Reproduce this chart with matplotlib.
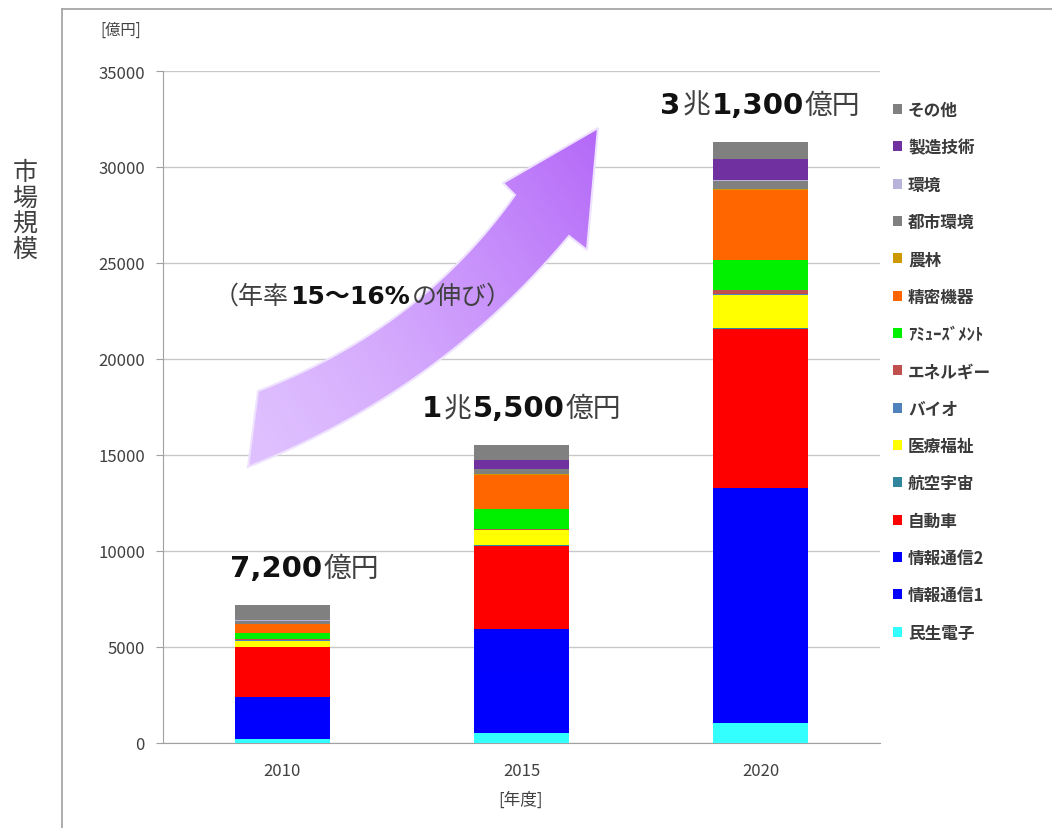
import numpy as np
import matplotlib
matplotlib.use("Agg")
import matplotlib.pyplot as plt
from matplotlib.patches import Polygon
from matplotlib.lines import Line2D
from matplotlib.offsetbox import TextArea, HPacker, AnnotationBbox

plt.rcParams['font.family'] = ['Noto Sans CJK JP', 'DejaVu Sans']

# データ（億円）
years = ['2010', '2015', '2020']
categories = ['民生電子', '情報通信1', '情報通信2', '自動車', '航空宇宙', '医療福祉', 'バイオ',
              'エネルギー', 'ｱﾐｭｰｽﾞﾒﾝﾄ', '精密機器', '農林', '都市環境', '環境', '製造技術', 'その他']
minsei = [200, 520, 1040]
joho1 = [1200, 3000, 6500]
joho2 = [1000, 2420, 5730]
jidosha = [2600, 4320, 8290]
koku = [20, 30, 50]
iryo = [310, 780, 1730]
bio = [20, 30, 60]
energy = [50, 60, 200]
amusement = [340, 1020, 1540]
seimitsu = [460, 1800, 3670]
norin = [20, 30, 60]
toshi = [150, 250, 400]
kankyo = [20, 30, 50]
seizo = [40, 460, 1120]
sonota = [770, 750, 860]
values = [minsei, joho1, joho2, jidosha, koku, iryo, bio, energy, amusement,
          seimitsu, norin, toshi, kankyo, seizo, sonota]
colors = ['#33FFFF', '#0000FF', '#0000FC', '#FF0000', '#31859C', '#FFFF00', '#4F81BD',
          '#C0504D', '#00F000', '#FF6600', '#CC9900', '#808080', '#B8B3D9', '#7030A0', '#808080']

W, H = 1052, 829
fig = plt.figure(figsize=(W / 100, H / 100), dpi=100)
ax = fig.add_axes([163 / W, 1 - 744 / H, (880 - 163) / W, (744 - 72) / H])

x = np.arange(len(years))
bottom = np.zeros(len(years))
handles = []
for name, vals, c in zip(categories, values, colors):
    b = ax.bar(x, vals, 0.4, bottom=bottom, color=c, label=name, zorder=3)
    handles.append(b)
    bottom += np.array(vals)
totals = bottom

ax.set_xlim(-0.5, 2.5)
ax.set_ylim(0, 35000)
ax.set_yticks(np.arange(0, 35001, 5000))
ax.set_xticks(x)
ax.set_xticklabels(years)
ax.tick_params(axis='y', labelsize=12, length=5, width=0.8, color='#a0a0a0', pad=8, labelcolor='#404040')
ax.tick_params(axis='x', labelsize=12, length=0, pad=14, labelcolor='#404040')
ax.grid(axis='y', color='#c8c8c8', lw=1.0, zorder=0)
for s in ['top', 'right']:
    ax.spines[s].set_visible(False)
ax.spines['left'].set_color('#a0a0a0')
ax.spines['bottom'].set_color('#a0a0a0')
ax.set_facecolor('none')

DIGIT_FONT = ['DejaVu Sans', 'Noto Sans CJK JP']


def mixed_label(axis, parts, xy, xycoords, offset, align, size, bsize, tcolor='#404040'):
    kids = []
    for s, bold in parts:
        if bold:
            tp = dict(fontsize=bsize, fontweight='bold', color='#111111', family=DIGIT_FONT)
        else:
            tp = dict(fontsize=size, color=tcolor)
        kids.append(TextArea(s, textprops=tp))
    box = HPacker(children=kids, align='baseline', pad=0, sep=1)
    ab = AnnotationBbox(box, xy, xycoords=xycoords, xybox=offset, boxcoords='offset points',
                        frameon=False, box_alignment=align, zorder=10)
    axis.add_artist(ab)


# 合計ラベル
label_shift = [16, 0, 0]
for xi, tot, dx in zip(x, totals, label_shift):
    tot = int(round(tot))
    cho, rest = divmod(tot, 10000)
    parts = []
    if cho:
        parts += [(str(cho), True), ('兆', False)]
    parts += [(f'{rest:,}', True), ('億円', False)]
    mixed_label(ax, parts, (xi, tot), 'data', (dx, 16), (0.5, 0), 20, 21)

# 凡例
fig.legend(handles[::-1], categories[::-1], loc='upper left', bbox_to_anchor=(878 / W, 1 - 87 / H),
           frameon=False, prop=dict(size=12, weight='bold'), handlelength=0.55, handleheight=0.55,
           handletextpad=0.35, labelspacing=1.16, labelcolor='#3a3a3a')

# 装飾用のオーバーレイ
ov = fig.add_axes([0, 0, 1, 1], zorder=5)
ov.set_xlim(0, W)
ov.set_ylim(H, 0)
ov.axis('off')
ov.patch.set_alpha(0)


def bez(p0, p1, p2, n=30):
    t = np.linspace(0, 1, n)[:, None]
    return (1 - t) ** 2 * np.array(p0) + 2 * (1 - t) * t * np.array(p1) + t ** 2 * np.array(p2)


upper = bez((258, 392), (420, 330), (515, 196))
lower = bez((248, 468), (440, 392), (569, 237))
head = np.array([(503, 184), (598, 129), (587, 251)])
outline = np.vstack([upper, head, lower[::-1]])
arrow = Polygon(outline, closed=True, facecolor='none', edgecolor='#eee2ff', lw=1.5, zorder=2)
ov.add_patch(arrow)

gx, gy = np.meshgrid(np.linspace(0, 1, 200), np.linspace(0, 1, 200))
light = np.array([0.88, 0.76, 1.0])
dark = np.array([0.70, 0.40, 0.97])
tt = np.clip(0.6 * gx + 0.4 * (1 - gy), 0, 1) ** 1.4
img = light * (1 - tt[..., None]) + dark * tt[..., None]
im = ov.imshow(img, extent=(240, 605, 475, 125), origin='upper', aspect='auto', zorder=1,
               interpolation='bilinear')
im.set_clip_path(arrow)

mixed_label(ov, [('（年率', False), ('15～16%', True), ('の伸び）', False)], (214, 297), 'data',
            (0, 0), (0, 0.5), 18, 18)

# 外枠とテキスト
fig.add_artist(Line2D([62 / W, 62 / W], [0, 1 - 10 / H], color='#a0a0a0', lw=1.2))
fig.add_artist(Line2D([62 / W, 1], [1 - 10 / H, 1 - 10 / H], color='#a0a0a0', lw=1.2))
fig.text(25 / W, 1 - 212 / H, '市\n場\n規\n模', fontsize=18, color='#404040', ha='center',
         va='center', linespacing=1.0)
fig.text(121 / W, 1 - 30 / H, '[億円]', fontsize=11, color='#404040', ha='center', va='center')
fig.text(521 / W, 1 - 800 / H, '[年度]', fontsize=12, color='#404040', ha='center', va='center')

fig.savefig('out.png', dpi=100, facecolor='white')
